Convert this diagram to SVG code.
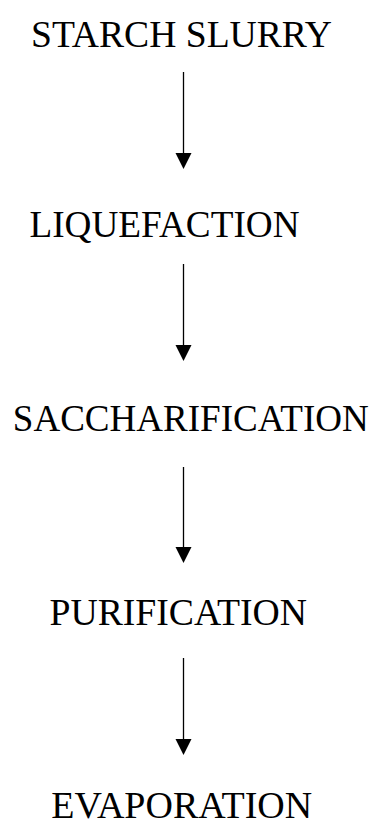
<svg xmlns="http://www.w3.org/2000/svg" width="375" height="820" viewBox="0 0 375 820">
<style>
  .lbl { font-family: "Liberation Serif", "Times New Roman", serif; font-size: 37px; fill: #000; }
  .conn { stroke: #000; stroke-width: 1.3; fill: none; }
  .head { fill: #000; }
</style>
<rect width="375" height="820" fill="#fff"/>
<g id="n1"><text class="lbl" x="31" y="47" textLength="301" lengthAdjust="spacingAndGlyphs">STARCH SLURRY</text></g>
<g id="n2"><text class="lbl" x="29.5" y="236.7" textLength="270" lengthAdjust="spacingAndGlyphs">LIQUEFACTION</text></g>
<g id="n3"><text class="lbl" x="12.8" y="430.7" textLength="356" lengthAdjust="spacingAndGlyphs">SACCHARIFICATION</text></g>
<g id="n4"><text class="lbl" x="49.5" y="624.7" textLength="257.5" lengthAdjust="spacingAndGlyphs">PURIFICATION</text></g>
<g id="n5"><text class="lbl" x="51.2" y="817.7" textLength="261" lengthAdjust="spacingAndGlyphs">EVAPORATION</text></g>
<g id="connectors">
  <line class="conn" x1="183.5" y1="72" x2="183.5" y2="154"/>
  <polygon class="head" points="175.5,153 191.5,153 183.5,169"/>
  <line class="conn" x1="183.5" y1="264" x2="183.5" y2="346"/>
  <polygon class="head" points="175.5,345 191.5,345 183.5,361"/>
  <line class="conn" x1="183.5" y1="467" x2="183.5" y2="548"/>
  <polygon class="head" points="175.5,547 191.5,547 183.5,563"/>
  <line class="conn" x1="183.5" y1="658" x2="183.5" y2="740"/>
  <polygon class="head" points="175.5,739 191.5,739 183.5,755"/>
</g>
</svg>
